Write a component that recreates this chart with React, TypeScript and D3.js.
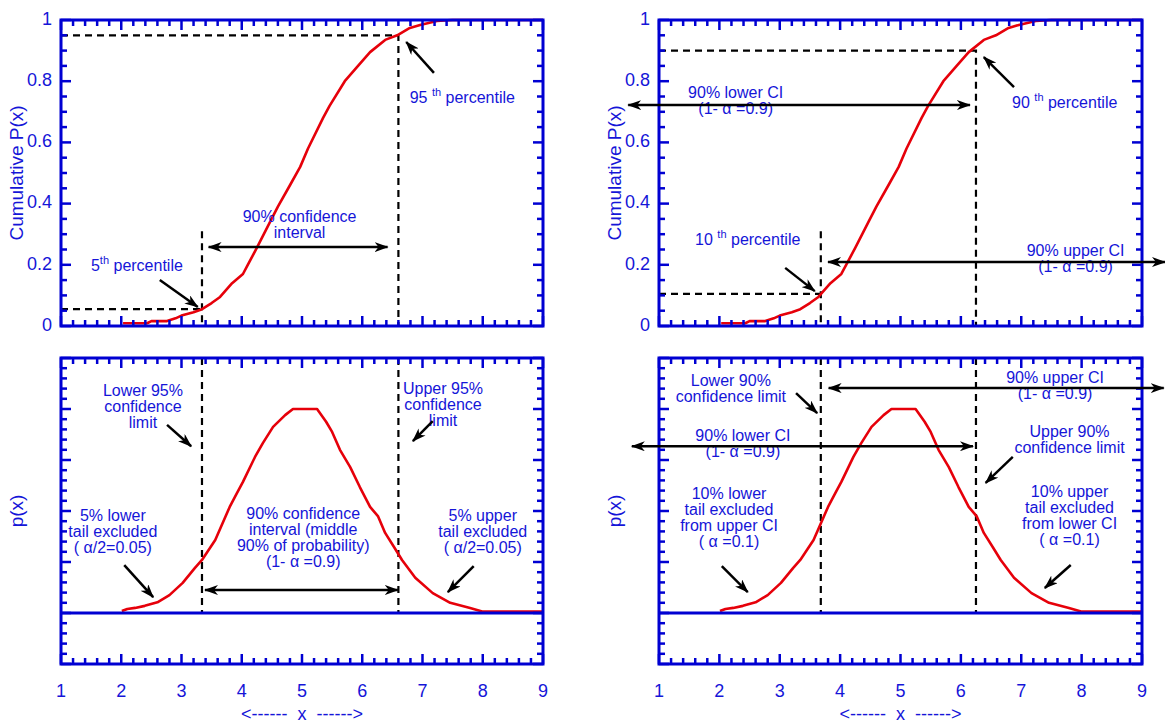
import { useEffect, useRef } from "react";
import * as d3 from "d3";

const cdfX = [2.03, 2.2, 2.43, 2.5, 2.76, 2.9, 3.0, 3.2, 3.34, 3.5, 3.64, 3.84, 4.02, 4.1, 4.25, 4.47, 4.6, 4.8, 4.97, 5.1, 5.35, 5.46, 5.71, 5.93, 6.13, 6.38, 6.58, 6.79, 6.96, 7.24, 7.5, 9.0];
const cdfP = [0.009, 0.009, 0.009, 0.016, 0.016, 0.025, 0.034, 0.045, 0.055, 0.075, 0.095, 0.14, 0.17, 0.2, 0.255, 0.34, 0.39, 0.46, 0.52, 0.58, 0.68, 0.72, 0.8, 0.85, 0.895, 0.935, 0.95, 0.974, 0.984, 0.997, 1.0, 1.0];

// density curve
const pdfX = [2.01, 2.1, 2.23, 2.39, 2.6, 2.8, 3.02, 3.22, 3.34, 3.56, 3.8, 3.92, 4.02, 4.22, 4.35, 4.52, 4.72, 4.85, 5.0, 5.25, 5.4, 5.5, 5.63, 5.8, 5.96, 6.13, 6.26, 6.38, 6.54, 6.66, 6.88, 7.17, 7.46, 7.79, 7.99, 9.0];
const pdfP = [0.004, 0.008, 0.01, 0.014, 0.021, 0.035, 0.059, 0.088, 0.104, 0.143, 0.208, 0.235, 0.257, 0.306, 0.333, 0.365, 0.388, 0.4, 0.4, 0.4, 0.375, 0.355, 0.32, 0.286, 0.247, 0.208, 0.19, 0.157, 0.127, 0.104, 0.069, 0.039, 0.02, 0.01, 0.003, 0.003];

const xTickLabels = ["1", "2", "3", "4", "5", "6", "7", "8", "9"];
const yTickLabels = ["0", "0.2", "0.4", "0.6", "0.8", "1"];

// percentiles used by the left (95%) and right (90%) pair
const leftLimits = [3.34, 6.6];
const leftLevels = [0.055, 0.95];
const rightLimits = [3.68, 6.25];
const rightLevels = [0.105, 0.9];

type Note = { lines: string[]; x: number; y: number };
type Arrow = { from: [number, number]; to: [number, number]; both?: boolean };

const topLeftNotes: Note[] = [
  { lines: ["90% confidence", "interval"], x: 4.96, y: 0.353 },
  { lines: ["5^th^ percentile"], x: 2.26, y: 0.193 },
  { lines: ["95 ^th^ percentile"], x: 7.66, y: 0.742 },
];
const topLeftArrows: Arrow[] = [
  { from: [2.64, 0.15], to: [3.27, 0.062] },
  { from: [7.19, 0.827], to: [6.73, 0.928] },
  { from: [3.45, 0.258], to: [6.42, 0.258], both: true },
];

const botLeftNotes: Note[] = [
  { lines: ["Lower 95%", "confidence", "limit"], x: 2.36, y: 0.433 },
  { lines: ["Upper 95%", "confidence", "limit"], x: 7.34, y: 0.437 },
  { lines: ["5% lower", "tail excluded", "( α/2=0.05)"], x: 1.86, y: 0.188 },
  { lines: ["90% confidence", "interval (middle", "90% of probability)", "(1- α =0.9)"], x: 5.02, y: 0.192 },
  { lines: ["5% upper", "tail excluded", "( α/2=0.05)"], x: 8.0, y: 0.188 },
];
const botLeftArrows: Arrow[] = [
  { from: [2.76, 0.369], to: [3.16, 0.327] },
  { from: [7.17, 0.376], to: [6.84, 0.337] },
  { from: [2.05, 0.094], to: [2.53, 0.031] },
  { from: [7.85, 0.092], to: [7.42, 0.041] },
  { from: [3.39, 0.045], to: [6.59, 0.045], both: true },
];

const topRightNotes: Note[] = [
  { lines: ["90% lower CI", "(1- α =0.9)"], x: 2.27, y: 0.758 },
  { lines: ["90 ^th^ percentile"], x: 7.72, y: 0.725 },
  { lines: ["10 ^th^ percentile"], x: 2.47, y: 0.278 },
  { lines: ["90% upper CI", "(1- α =0.9)"], x: 7.9, y: 0.242 },
];
const topRightArrows: Arrow[] = [
  { from: [0.49, 0.722], to: [6.15, 0.722], both: true },
  { from: [6.88, 0.781], to: [6.38, 0.879] },
  { from: [3.09, 0.19], to: [3.58, 0.114] },
  { from: [3.8, 0.209], to: [9.38, 0.209], both: true },
];

const botRightNotes: Note[] = [
  { lines: ["Lower 90%", "confidence limit"], x: 2.19, y: 0.453 },
  { lines: ["90% upper CI", "(1- α =0.9)"], x: 7.56, y: 0.459 },
  { lines: ["90% lower CI", "(1- α =0.9)"], x: 2.39, y: 0.345 },
  { lines: ["Upper 90%", "confidence limit"], x: 7.8, y: 0.353 },
  { lines: ["10% lower", "tail excluded", "from upper CI", "( α =0.1)"], x: 2.16, y: 0.231 },
  { lines: ["10% upper", "tail excluded", "from lower CI", "( α =0.1)"], x: 7.8, y: 0.235 },
];
const botRightArrows: Arrow[] = [
  { from: [3.27, 0.431], to: [3.62, 0.392] },
  { from: [6.86, 0.306], to: [6.41, 0.255] },
  { from: [2.04, 0.092], to: [2.47, 0.041] },
  { from: [7.82, 0.094], to: [7.39, 0.049] },
  { from: [3.81, 0.441], to: [9.36, 0.441], both: true },
  { from: [0.55, 0.327], to: [6.2, 0.327], both: true },
];

const BLUE = "#0000d2";
const TEXT = "#1515d8";
const RED = "#e6000a";
const FONT = "'Liberation Sans', Arial, sans-serif";

export default function App() {
  const ref = useRef<SVGSVGElement>(null);

  useEffect(() => {
    const svg = d3.select(ref.current);
    svg.selectAll("*").remove();

    svg
      .append("defs")
      .append("marker")
      .attr("id", "head")
      .attr("viewBox", "0 0 14 10")
      .attr("refX", 13)
      .attr("refY", 5)
      .attr("markerWidth", 14)
      .attr("markerHeight", 10)
      .attr("markerUnits", "userSpaceOnUse")
      .attr("orient", "auto-start-reverse")
      .append("path")
      .attr("d", "M0,0 L14,5 L0,10 L4,5 Z")
      .attr("fill", "#000");

    const columns = [
      { x: d3.scaleLinear().domain([1, 9]).range([61, 543]), limits: leftLimits, levels: leftLevels,
        notes: [topLeftNotes, botLeftNotes], arrows: [topLeftArrows, botLeftArrows] },
      { x: d3.scaleLinear().domain([1, 9]).range([659, 1142]), limits: rightLimits, levels: rightLevels,
        notes: [topRightNotes, botRightNotes], arrows: [topRightArrows, botRightArrows] },
    ];

    const yTop = d3.scaleLinear().domain([0, 1]).range([326, 20]);
    const yBot = d3.scaleLinear().domain([-0.1, 0.5]).range([664, 358]);

    columns.forEach((col) => {
      const x = col.x;
      const [x0, x1] = x.range();

      function frame(y: d3.ScaleLinear<number, number>, yTicks: { v: number; major: boolean }[]) {
        const [yb, yt] = y.range();
        const g = svg.append("g");
        const xTicks = d3.range(0, 41).map((i) => ({ v: 1 + i * 0.2, major: i % 5 === 0 }));
        xTicks.forEach((t) => {
          const len = t.major ? 10 : 6;
          const px = x(t.v);
          g.append("line").attr("x1", px).attr("x2", px).attr("y1", yb).attr("y2", yb - len);
          g.append("line").attr("x1", px).attr("x2", px).attr("y1", yt).attr("y2", yt + len);
        });
        yTicks.forEach((t) => {
          const len = t.major ? 10 : 6;
          const py = y(t.v);
          g.append("line").attr("x1", x0).attr("x2", x0 + len).attr("y1", py).attr("y2", py);
          g.append("line").attr("x1", x1).attr("x2", x1 - len).attr("y1", py).attr("y2", py);
        });
        g.selectAll("line").attr("stroke", BLUE).attr("stroke-width", 2.5);
        g.append("rect")
          .attr("x", x0).attr("y", yt).attr("width", x1 - x0).attr("height", yb - yt)
          .attr("fill", "none").attr("stroke", BLUE).attr("stroke-width", 3);
      }

      function dashed(pts: [number, number][], y: d3.ScaleLinear<number, number>) {
        svg.append("path")
          .attr("d", d3.line()(pts.map((p) => [x(p[0]), y(p[1])] as [number, number])))
          .attr("fill", "none").attr("stroke", "#000").attr("stroke-width", 2.2)
          .attr("stroke-dasharray", "7,5");
      }

      function curve(xs: number[], ys: number[], y: d3.ScaleLinear<number, number>) {
        const line = d3.line<number>().x((d) => x(xs[d])).y((d) => y(ys[d]));
        svg.append("path").datum(d3.range(xs.length)).attr("d", line)
          .attr("fill", "none").attr("stroke", RED).attr("stroke-width", 2.6)
          .attr("stroke-linejoin", "round");
      }

      function notes(list: Note[], y: d3.ScaleLinear<number, number>) {
        list.forEach((n) => {
          n.lines.forEach((ln, i) => {
            const t = svg.append("text")
              .attr("x", x(n.x)).attr("y", y(n.y) + i * 16)
              .attr("text-anchor", "middle").attr("dominant-baseline", "middle")
              .attr("font-family", FONT).attr("font-size", 16).attr("fill", TEXT)
              .style("white-space", "pre");
            ln.split("^").forEach((part, k) => {
              if (k % 2 === 1) {
                t.append("tspan").attr("font-size", 11).attr("dy", -6).text(part);
              } else {
                const s = t.append("tspan").text(part);
                if (k > 0) s.attr("dy", 6);
              }
            });
          });
        });
      }

      function arrows(list: Arrow[], y: d3.ScaleLinear<number, number>) {
        list.forEach((a) => {
          const p = svg.append("line")
            .attr("x1", x(a.from[0])).attr("y1", y(a.from[1]))
            .attr("x2", x(a.to[0])).attr("y2", y(a.to[1]))
            .attr("stroke", "#000").attr("stroke-width", 2.5)
            .attr("marker-end", "url(#head)");
          if (a.both) p.attr("marker-start", "url(#head)");
        });
      }

      // top panel: cumulative
      const [lo, hi] = col.limits;
      const [plo, phi] = col.levels;
      dashed([[1, phi], [hi, phi], [hi, 0]], yTop);
      dashed([[1, plo], [lo, plo]], yTop);
      dashed([[lo, 0.31], [lo, 0]], yTop);
      curve(cdfX, cdfP, yTop);
      frame(yTop, d3.range(0, 21).map((i) => ({ v: i * 0.05, major: i % 4 === 0 })));
      notes(col.notes[0], yTop);
      arrows(col.arrows[0], yTop);

      yTickLabels.forEach((lab, i) => {
        svg.append("text").attr("x", x0 - 9).attr("y", yTop(i * 0.2))
          .attr("text-anchor", "end").attr("dominant-baseline", "middle")
          .attr("font-family", FONT).attr("font-size", 18).attr("fill", TEXT).text(lab);
      });

      // bottom panel: density
      dashed([[lo, 0.5], [lo, 0]], yBot);
      dashed([[hi, 0.5], [hi, 0]], yBot);
      curve(pdfX, pdfP, yBot);
      svg.append("line").attr("x1", x0).attr("x2", x1).attr("y1", yBot(0)).attr("y2", yBot(0))
        .attr("stroke", BLUE).attr("stroke-width", 3);
      frame(yBot, d3.range(0, 31).map((i) => ({ v: -0.1 + i * 0.02, major: i % 5 === 0 })));
      notes(col.notes[1], yBot);
      arrows(col.arrows[1], yBot);

      xTickLabels.forEach((lab, i) => {
        svg.append("text").attr("x", x(i + 1)).attr("y", 692)
          .attr("text-anchor", "middle").attr("dominant-baseline", "middle")
          .attr("font-family", FONT).attr("font-size", 18).attr("fill", TEXT).text(lab);
      });
      svg.append("text").attr("x", (x0 + x1) / 2).attr("y", 715)
        .attr("text-anchor", "middle").attr("dominant-baseline", "middle")
        .attr("font-family", FONT).attr("font-size", 18).attr("fill", TEXT)
        .style("white-space", "pre").text("<------  x  ------>");

      // axis titles
      const tx = x0 - 43;
      svg.append("text").attr("transform", `translate(${tx},${yTop(0.5)}) rotate(-90)`)
        .attr("text-anchor", "middle").attr("dominant-baseline", "middle")
        .attr("font-family", FONT).attr("font-size", 19).attr("fill", TEXT).text("Cumulative P(x)");
      svg.append("text").attr("transform", `translate(${tx},${yBot(0.2)}) rotate(-90)`)
        .attr("text-anchor", "middle").attr("dominant-baseline", "middle")
        .attr("font-family", FONT).attr("font-size", 19).attr("fill", TEXT).text("p(x)");
    });
  });

  return (
    <svg ref={ref} width={1165} height={723}
      style={{ position: "absolute", left: 0, top: 0, background: "#fff" }} />
  );
}
